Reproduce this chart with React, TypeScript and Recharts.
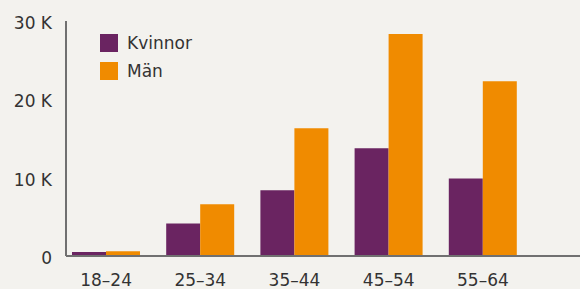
import { BarChart, Bar, XAxis, YAxis } from "recharts";

const categories = ["18–24", "25–34", "35–44", "45–54", "55–64"];
const kvinnor = [500, 4150, 8400, 13750, 9900];
const man = [600, 6600, 16300, 28350, 22300];
const yTicks = [0, 10000, 20000, 30000];

const PURPLE = "#6a2461";
const ORANGE = "#f08b00";
const TEXT = "#333333";
const AXIS = "#707070";
const FONT = "'DejaVu Sans', sans-serif";

const data = categories.map((c, i) => ({ name: c, Kvinnor: kvinnor[i], Män: man[i] }));

function LegendBox() {
	const items = [
		{ label: "Kvinnor", color: PURPLE },
		{ label: "Män", color: ORANGE },
	];
	return (
		<div style={{ position: "absolute", left: 100, top: 29, fontFamily: FONT, fontSize: 17, color: TEXT }}>
			{items.map((it) => (
				<div key={it.label} style={{ display: "flex", alignItems: "center", height: 28 }}>
					<span style={{ display: "inline-block", width: 18, height: 18, background: it.color, marginRight: 9 }} />
					{it.label}
				</div>
			))}
		</div>
	);
}

export default function App() {
	return (
		<div style={{ position: "absolute", left: 0, top: 0, width: 580, height: 289, background: "#f3f2ee", overflow: "hidden" }}>
			<BarChart
				width={580}
				height={289}
				data={data}
				margin={{ top: 21, right: 0, bottom: 3, left: 0 }}
				barCategoryGap={13}
				barGap={0}
			>
				<XAxis
					dataKey="name"
					height={30}
					padding={{ left: -7, right: 50 }}
					axisLine={{ stroke: AXIS, strokeWidth: 2 }}
					tickLine={false}
					tickSize={0}
					tickMargin={18}
					tick={{ fill: TEXT, fontSize: 17, fontFamily: FONT }}
					interval={0}
				/>
				<YAxis
					width={66}
					domain={[0, 30000]}
					ticks={yTicks}
					tickFormatter={(v: number) => (v === 0 ? "0" : `${v / 1000} K`)}
					axisLine={{ stroke: AXIS, strokeWidth: 2 }}
					tickLine={false}
					tickSize={0}
					tickMargin={14}
					tick={{ fill: TEXT, fontSize: 17, fontFamily: FONT, dy: 2 }}
				/>
				<Bar dataKey="Kvinnor" fill={PURPLE} isAnimationActive={false} />
				<Bar dataKey="Män" fill={ORANGE} isAnimationActive={false} />
			</BarChart>
			<LegendBox />
		</div>
	);
}
